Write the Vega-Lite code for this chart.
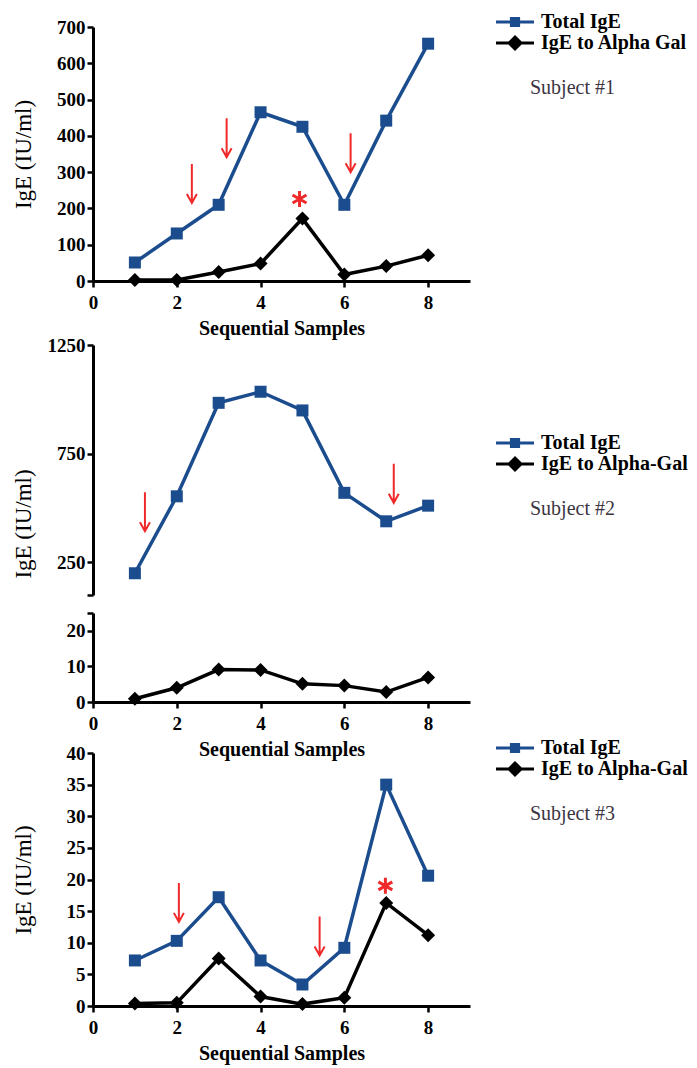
{
  "$schema": "https://vega.github.io/schema/vega-lite/v6.json",
  "padding": {"left": 11, "top": 12, "right": 5, "bottom": 5},
  "bounds": "flush",
  "spacing": 18,
  "resolve": {"scale": {"color": "independent", "stroke": "independent", "shape": "independent"}, "legend": {"color": "independent", "stroke": "independent", "shape": "independent"}},
  "datasets": {
    "ige": [
      {"subject": 1, "series": "Total IgE", "sample": 1, "value": 51},
      {"subject": 1, "series": "Total IgE", "sample": 2, "value": 131},
      {"subject": 1, "series": "Total IgE", "sample": 3, "value": 210},
      {"subject": 1, "series": "Total IgE", "sample": 4, "value": 465},
      {"subject": 1, "series": "Total IgE", "sample": 5, "value": 425},
      {"subject": 1, "series": "Total IgE", "sample": 6, "value": 210},
      {"subject": 1, "series": "Total IgE", "sample": 7, "value": 442},
      {"subject": 1, "series": "Total IgE", "sample": 8, "value": 654},
      {"subject": 1, "series": "IgE to Alpha Gal", "sample": 1, "value": 3},
      {"subject": 1, "series": "IgE to Alpha Gal", "sample": 2, "value": 3},
      {"subject": 1, "series": "IgE to Alpha Gal", "sample": 3, "value": 25},
      {"subject": 1, "series": "IgE to Alpha Gal", "sample": 4, "value": 48},
      {"subject": 1, "series": "IgE to Alpha Gal", "sample": 5, "value": 172},
      {"subject": 1, "series": "IgE to Alpha Gal", "sample": 6, "value": 18},
      {"subject": 1, "series": "IgE to Alpha Gal", "sample": 7, "value": 41},
      {"subject": 1, "series": "IgE to Alpha Gal", "sample": 8, "value": 71},
      {"subject": 2, "series": "Total IgE", "sample": 1, "value": 200},
      {"subject": 2, "series": "Total IgE", "sample": 2, "value": 554},
      {"subject": 2, "series": "Total IgE", "sample": 3, "value": 984},
      {"subject": 2, "series": "Total IgE", "sample": 4, "value": 1035},
      {"subject": 2, "series": "Total IgE", "sample": 5, "value": 949},
      {"subject": 2, "series": "Total IgE", "sample": 6, "value": 570},
      {"subject": 2, "series": "Total IgE", "sample": 7, "value": 439},
      {"subject": 2, "series": "Total IgE", "sample": 8, "value": 511},
      {"subject": 2, "series": "IgE to Alpha-Gal", "sample": 1, "value": 0.9},
      {"subject": 2, "series": "IgE to Alpha-Gal", "sample": 2, "value": 4},
      {"subject": 2, "series": "IgE to Alpha-Gal", "sample": 3, "value": 9.1},
      {"subject": 2, "series": "IgE to Alpha-Gal", "sample": 4, "value": 9},
      {"subject": 2, "series": "IgE to Alpha-Gal", "sample": 5, "value": 5.1},
      {"subject": 2, "series": "IgE to Alpha-Gal", "sample": 6, "value": 4.6},
      {"subject": 2, "series": "IgE to Alpha-Gal", "sample": 7, "value": 2.8},
      {"subject": 2, "series": "IgE to Alpha-Gal", "sample": 8, "value": 6.9},
      {"subject": 3, "series": "Total IgE", "sample": 1, "value": 7.2},
      {"subject": 3, "series": "Total IgE", "sample": 2, "value": 10.3},
      {"subject": 3, "series": "Total IgE", "sample": 3, "value": 17.2},
      {"subject": 3, "series": "Total IgE", "sample": 4, "value": 7.2},
      {"subject": 3, "series": "Total IgE", "sample": 5, "value": 3.4},
      {"subject": 3, "series": "Total IgE", "sample": 6, "value": 9.2},
      {"subject": 3, "series": "Total IgE", "sample": 7, "value": 35},
      {"subject": 3, "series": "Total IgE", "sample": 8, "value": 20.6},
      {"subject": 3, "series": "IgE to Alpha-Gal", "sample": 1, "value": 0.4},
      {"subject": 3, "series": "IgE to Alpha-Gal", "sample": 2, "value": 0.5},
      {"subject": 3, "series": "IgE to Alpha-Gal", "sample": 3, "value": 7.5},
      {"subject": 3, "series": "IgE to Alpha-Gal", "sample": 4, "value": 1.5},
      {"subject": 3, "series": "IgE to Alpha-Gal", "sample": 5, "value": 0.3},
      {"subject": 3, "series": "IgE to Alpha-Gal", "sample": 6, "value": 1.3},
      {"subject": 3, "series": "IgE to Alpha-Gal", "sample": 7, "value": 16.3},
      {"subject": 3, "series": "IgE to Alpha-Gal", "sample": 8, "value": 11.2}
    ],
    "arrows": [
      {"subject": 1, "sample": 2.36, "value": 215},
      {"subject": 1, "sample": 3.19, "value": 341},
      {"subject": 1, "sample": 6.15, "value": 300},
      {"subject": 2, "sample": 1.24, "value": 393},
      {"subject": 2, "sample": 7.18, "value": 524},
      {"subject": 3, "sample": 2.05, "value": 13.3},
      {"subject": 3, "sample": 5.41, "value": 8.0}
    ],
    "stars": [
      {"subject": 1, "sample": 4.93, "value": 226},
      {"subject": 3, "sample": 6.98, "value": 19.0}
    ]
  },
  "vconcat": [
    {
      "width": 377,
      "height": 254,
      "encoding": {
        "x": {"field": "sample", "type": "quantitative", "scale": {"domain": [0, 9], "nice": false, "zero": false}, "axis": {"values": [0, 2, 4, 6, 8], "title": "Sequential Samples"}},
        "y": {"field": "value", "type": "quantitative", "scale": {"domain": [0, 700], "nice": false}, "axis": {"values": [0, 100, 200, 300, 400, 500, 600, 700], "labelOverlap": false, "title": "IgE (IU/ml)"}}
      },
      "layer": [
        {"data": {"name": "ige"}, "transform": [{"filter": "datum.subject === 1 && datum.series === 'Total IgE'"}], "mark": {"type": "line", "strokeWidth": 3.5, "color": "#1b4d8e"}},
        {"data": {"name": "ige"}, "transform": [{"filter": "datum.subject === 1 && datum.series !== 'Total IgE'"}], "mark": {"type": "line", "strokeWidth": 3.5, "color": "#000000"}},
        {"data": {"name": "ige"}, "transform": [{"filter": "datum.subject === 1 && datum.series === 'Total IgE'"}], "mark": {"type": "point", "filled": true, "opacity": 1, "color": "#1b4d8e", "shape": "square", "size": 144}},
        {"data": {"name": "ige"}, "transform": [{"filter": "datum.subject === 1 && datum.series !== 'Total IgE'"}], "mark": {"type": "point", "filled": true, "opacity": 1, "color": "#000000", "shape": "diamond", "size": 196}},
        {"data": {"name": "arrows"}, "transform": [{"filter": "datum.subject === 1"}], "mark": {"type": "point", "shape": "M0,-7.8V0M-1,-1.8L0,0L1,-1.8", "filled": false, "color": "#f02a2a", "strokeWidth": 2, "size": 100, "opacity": 1}},
        {"data": {"name": "stars"}, "transform": [{"filter": "datum.subject === 1"}], "mark": {"type": "point", "shape": "M0,-1V1M-0.87,-0.5L0.87,0.5M-0.87,0.5L0.87,-0.5", "filled": false, "color": "#f02a2a", "strokeWidth": 3, "size": 256, "opacity": 1}},
        {
          "data": {"name": "ige"},
          "transform": [{"filter": "datum.subject === 1"}],
          "mark": {"type": "point", "filled": true, "opacity": 0},
          "encoding": {
            "color": {"field": "series", "type": "nominal", "scale": {"domain": ["Total IgE", "IgE to Alpha Gal"], "range": ["#1b4d8e", "#000000"]}, "legend": {"title": "Subject #1", "legendX": 437, "legendY": -15}},
            "stroke": {"field": "series", "type": "nominal", "scale": {"domain": ["Total IgE", "IgE to Alpha Gal"], "range": ["#1b4d8e", "#000000"]}, "legend": {"title": "Subject #1", "legendX": 437, "legendY": -15}},
            "shape": {"field": "series", "type": "nominal", "scale": {"domain": ["Total IgE", "IgE to Alpha Gal"], "range": ["M-3.17,0H3.17M-0.6,-0.6H0.6V0.6H-0.6Z", "M-3.17,0H3.17M0,-1L1,0L0,1L-1,0Z"]}, "legend": {"title": "Subject #1", "legendX": 437, "legendY": -15}}
          }
        }
      ]
    },
    {
      "width": 377,
      "height": 296,
      "encoding": {
        "x": {"field": "sample", "type": "quantitative", "scale": {"domain": [0, 9], "nice": false, "zero": false}, "axis": null},
        "y": {"field": "value", "type": "quantitative", "scale": {"domain": [100, 1250], "range": [296, 46], "nice": false, "zero": false}, "axis": {"values": [100, 250, 750, 1250], "format": "d", "labelExpr": "datum.value === 100 ? '' : datum.label", "labelOverlap": false, "title": "IgE (IU/ml)", "titleY": 224.5}}
      },
      "layer": [
        {"data": {"name": "ige"}, "transform": [{"filter": "datum.subject === 2 && datum.series === 'Total IgE'"}], "mark": {"type": "line", "strokeWidth": 3.5, "color": "#1b4d8e"}},
        {"data": {"name": "ige"}, "transform": [{"filter": "datum.subject === 2 && datum.series === 'Total IgE'"}], "mark": {"type": "point", "filled": true, "opacity": 1, "color": "#1b4d8e", "shape": "square", "size": 144}},
        {"data": {"name": "arrows"}, "transform": [{"filter": "datum.subject === 2"}], "mark": {"type": "point", "shape": "M0,-7.8V0M-1,-1.8L0,0L1,-1.8", "filled": false, "color": "#f02a2a", "strokeWidth": 2, "size": 100, "opacity": 1}},
        {
          "data": {"name": "ige"},
          "transform": [{"filter": "datum.subject === 2 && datum.series === 'Total IgE'"}],
          "mark": {"type": "point", "filled": true, "opacity": 0},
          "encoding": {
            "color": {"field": "series", "type": "nominal", "scale": {"domain": ["Total IgE", "IgE to Alpha-Gal"], "range": ["#1b4d8e", "#000000"]}, "legend": {"title": "Subject #2", "legendX": 437, "legendY": 134}},
            "stroke": {"field": "series", "type": "nominal", "scale": {"domain": ["Total IgE", "IgE to Alpha-Gal"], "range": ["#1b4d8e", "#000000"]}, "legend": {"title": "Subject #2", "legendX": 437, "legendY": 134}},
            "shape": {"field": "series", "type": "nominal", "scale": {"domain": ["Total IgE", "IgE to Alpha-Gal"], "range": ["M-3.17,0H3.17M-0.6,-0.6H0.6V0.6H-0.6Z", "M-3.17,0H3.17M0,-1L1,0L0,1L-1,0Z"]}, "legend": {"title": "Subject #2", "legendX": 437, "legendY": 134}}
          }
        }
      ]
    },
    {
      "width": 377,
      "height": 89,
      "encoding": {
        "x": {"field": "sample", "type": "quantitative", "scale": {"domain": [0, 9], "nice": false, "zero": false}, "axis": {"values": [0, 2, 4, 6, 8], "title": "Sequential Samples"}},
        "y": {"field": "value", "type": "quantitative", "scale": {"domain": [0, 25], "nice": false}, "axis": {"values": [0, 10, 20, 25], "labelExpr": "datum.value === 25 ? '' : datum.label", "labelOverlap": false, "title": null}}
      },
      "layer": [
        {"data": {"name": "ige"}, "transform": [{"filter": "datum.subject === 2 && datum.series !== 'Total IgE'"}], "mark": {"type": "line", "strokeWidth": 3.5, "color": "#000000"}},
        {"data": {"name": "ige"}, "transform": [{"filter": "datum.subject === 2 && datum.series !== 'Total IgE'"}], "mark": {"type": "point", "filled": true, "opacity": 1, "color": "#000000", "shape": "diamond", "size": 196}}
      ]
    },
    {
      "width": 377,
      "height": 286,
      "encoding": {
        "x": {"field": "sample", "type": "quantitative", "scale": {"domain": [0, 9], "nice": false, "zero": false}, "axis": {"values": [0, 2, 4, 6, 8], "title": "Sequential Samples"}},
        "y": {"field": "value", "type": "quantitative", "scale": {"domain": [0, 40], "range": [286, 33], "nice": false}, "axis": {"values": [0, 5, 10, 15, 20, 25, 30, 35, 40], "labelOverlap": false, "title": "IgE (IU/ml)"}}
      },
      "layer": [
        {"data": {"name": "ige"}, "transform": [{"filter": "datum.subject === 3 && datum.series === 'Total IgE'"}], "mark": {"type": "line", "strokeWidth": 3.5, "color": "#1b4d8e"}},
        {"data": {"name": "ige"}, "transform": [{"filter": "datum.subject === 3 && datum.series !== 'Total IgE'"}], "mark": {"type": "line", "strokeWidth": 3.5, "color": "#000000"}},
        {"data": {"name": "ige"}, "transform": [{"filter": "datum.subject === 3 && datum.series === 'Total IgE'"}], "mark": {"type": "point", "filled": true, "opacity": 1, "color": "#1b4d8e", "shape": "square", "size": 144}},
        {"data": {"name": "ige"}, "transform": [{"filter": "datum.subject === 3 && datum.series !== 'Total IgE'"}], "mark": {"type": "point", "filled": true, "opacity": 1, "color": "#000000", "shape": "diamond", "size": 196}},
        {"data": {"name": "arrows"}, "transform": [{"filter": "datum.subject === 3"}], "mark": {"type": "point", "shape": "M0,-7.8V0M-1,-1.8L0,0L1,-1.8", "filled": false, "color": "#f02a2a", "strokeWidth": 2, "size": 100, "opacity": 1}},
        {"data": {"name": "stars"}, "transform": [{"filter": "datum.subject === 3"}], "mark": {"type": "point", "shape": "M0,-1V1M-0.87,-0.5L0.87,0.5M-0.87,0.5L0.87,-0.5", "filled": false, "color": "#f02a2a", "strokeWidth": 3, "size": 256, "opacity": 1}},
        {
          "data": {"name": "ige"},
          "transform": [{"filter": "datum.subject === 3"}],
          "mark": {"type": "point", "filled": true, "opacity": 0},
          "encoding": {
            "color": {"field": "series", "type": "nominal", "scale": {"domain": ["Total IgE", "IgE to Alpha-Gal"], "range": ["#1b4d8e", "#000000"]}, "legend": {"title": "Subject #3", "legendX": 437, "legendY": 18}},
            "stroke": {"field": "series", "type": "nominal", "scale": {"domain": ["Total IgE", "IgE to Alpha-Gal"], "range": ["#1b4d8e", "#000000"]}, "legend": {"title": "Subject #3", "legendX": 437, "legendY": 18}},
            "shape": {"field": "series", "type": "nominal", "scale": {"domain": ["Total IgE", "IgE to Alpha-Gal"], "range": ["M-3.17,0H3.17M-0.6,-0.6H0.6V0.6H-0.6Z", "M-3.17,0H3.17M0,-1L1,0L0,1L-1,0Z"]}, "legend": {"title": "Subject #3", "legendX": 437, "legendY": 18}}
          }
        }
      ]
    }
  ],
  "config": {
    "view": {"stroke": null},
    "font": "Liberation Serif",
    "axis": {
      "grid": false,
      "domainColor": "#000000",
      "domainWidth": 3,
      "tickColor": "#000000",
      "tickWidth": 2.5,
      "tickSize": 6,
      "labelFont": "Liberation Serif",
      "labelFontWeight": "bold",
      "labelFontSize": 19,
      "labelColor": "#000000",
      "labelFlush": false,
      "labelOverlap": false,
      "titleFont": "Liberation Serif",
      "titleColor": "#000000"
    },
    "axisX": {"labelPadding": 6, "labelAngle": 0, "titleFontSize": 20, "titleFontWeight": "bold", "titlePadding": 6},
    "axisY": {"labelPadding": 2, "titleFontSize": 23, "titleFontWeight": "normal", "titleX": -70, "titleBaseline": "middle"},
    "legend": {
      "orient": "none",
      "padding": 0,
      "labelFont": "Liberation Serif",
      "labelFontSize": 20,
      "labelFontWeight": "bold",
      "labelColor": "#000000",
      "labelOffset": 16,
      "labelLimit": 300,
      "symbolSize": 144,
      "symbolOffset": -25,
      "symbolStrokeWidth": 3,
      "symbolOpacity": 1,
      "rowPadding": -1,
      "titleOrient": "bottom",
      "titleAnchor": "start",
      "titleFont": "Liberation Serif",
      "titleFontSize": 20,
      "titleFontWeight": "normal",
      "titleColor": "#3c3442",
      "titlePadding": 23,
      "titleLimit": 300
    }
  }
}
